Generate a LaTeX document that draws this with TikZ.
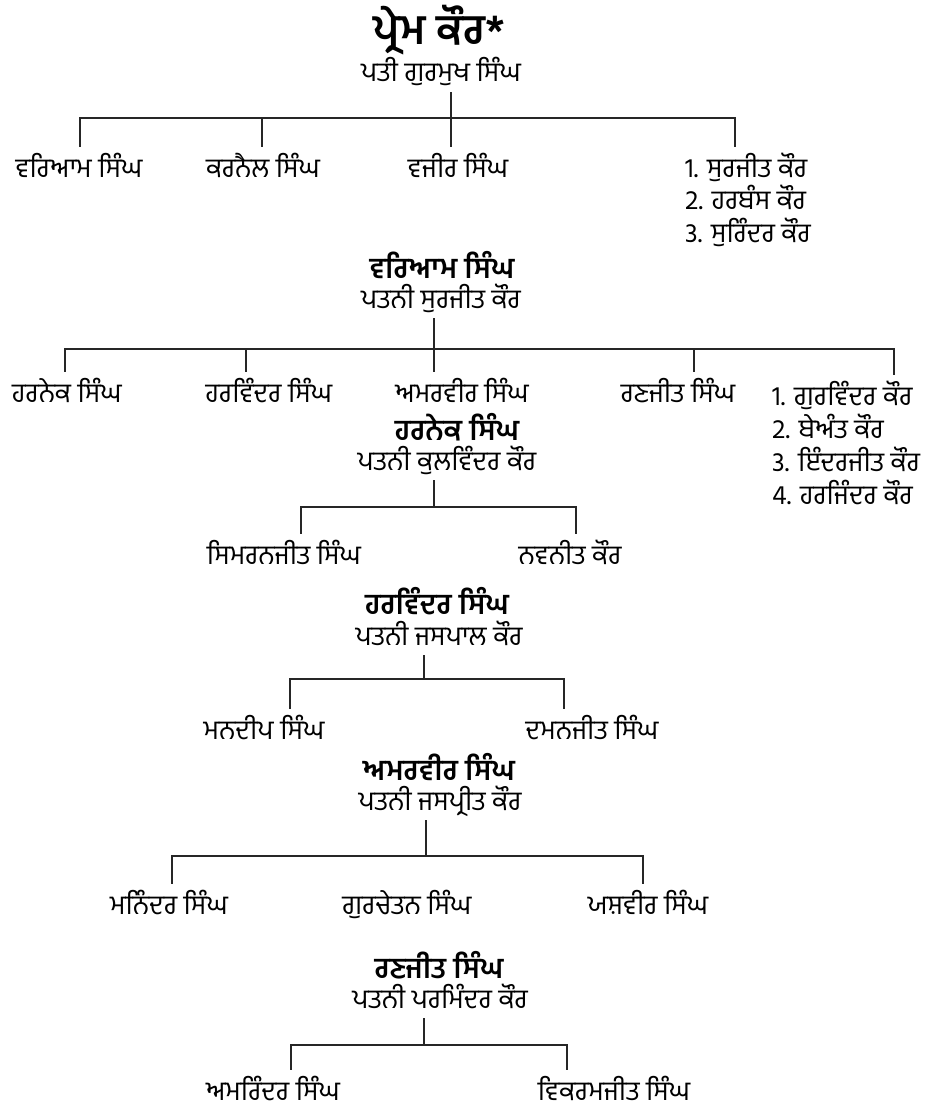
\documentclass[tikz,border=0pt]{standalone}
\usepackage{fontspec}
\newfontfamily\gur[Script=Gurmukhi]{Hind Jalandhar}
\usetikzlibrary{positioning}

\begin{document}
\begin{tikzpicture}[x=1pt,y=-1pt,
      person/.style={font=\gur\fontsize{27}{31}\selectfont,anchor=base,inner sep=0pt,text height=30pt,text depth=0pt},
      spouse/.style={person,text depth=10pt},
      listitem/.style={person,anchor=base west},
      parent/.style={font=\gur\bfseries\fontsize{29}{33}\selectfont,anchor=base,inner sep=0pt},
      rootname/.style={font=\gur\bfseries\fontsize{42}{46}\selectfont,anchor=base,inner sep=0pt},
      link/.style={line width=1.6pt,black!85}]
    \useasboundingbox[fill=white] (0,0) rectangle (948,1113);
    % pRem kaur
    \node[rootname] (h0) at (439,45) {ਪ੍ਰੇਮ ਕੌਰ*};
    \node[spouse] (s0) at (441,82) {ਪਤੀ ਗੁਰਮੁਖ ਸਿੰਘ};
    \coordinate (j0) at (451,118);
    \coordinate (d01) at (80,118); \coordinate (d02) at (262,118); \coordinate (d04) at (735,118);
    \node[person] (c01) at (79,177) {ਵਰਿਆਮ ਸਿੰਘ};
    \node[person] (c02) at (263,177) {ਕਰਨੈਲ ਸਿੰਘ};
    \node[person] (c03) at (458,177) {ਵਜੀਰ ਸਿੰਘ};
    \node[listitem] (c04a) at (685,177) {1. ਸੁਰਜੀਤ ਕੌਰ};
    \node[listitem] (c04b) at (685,209) {2. ਹਰਬੰਸ ਕੌਰ};
    \node[listitem] (c04c) at (685,242) {3. ਸੁਰਿੰਦਰ ਕੌਰ};
    \draw[link] (s0.south -| j0) -- (j0 |- c03.north);
    \draw[link] (d01 |- c01.north) -- (d01) -- (d04) -- (d04 |- c04a.north);
    \draw[link] (d02) -- (d02 |- c02.north);
    % wariam singh
    \node[parent] (h1) at (442,278) {ਵਰਿਆਮ ਸਿੰਘ};
    \node[spouse] (s1) at (441,308) {ਪਤਨੀ ਸੁਰਜੀਤ ਕੌਰ};
    \coordinate (j1) at (434,349);
    \coordinate (d11) at (65,349); \coordinate (d12) at (246,349);
    \coordinate (d14) at (694,349); \coordinate (d15) at (894,349);
    \node[person] (c11) at (67,402) {ਹਰਨੇਕ ਸਿੰਘ};
    \node[person] (c12) at (269,402) {ਹਰਵਿੰਦਰ ਸਿੰਘ};
    \node[person] (c13) at (462,402) {ਅਮਰਵੀਰ ਸਿੰਘ};
    \node[person] (c14) at (678,402) {ਰਣਜੀਤ ਸਿੰਘ};
    \node[listitem] (c15a) at (772,405) {1. ਗੁਰਵਿੰਦਰ ਕੌਰ};
    \node[listitem] (c15b) at (772,438) {2. ਬੇਅੰਤ ਕੌਰ};
    \node[listitem] (c15c) at (772,471) {3. ਇੰਦਰਜੀਤ ਕੌਰ};
    \node[listitem] (c15d) at (772,504) {4. ਹਰਜਿੰਦਰ ਕੌਰ};
    \draw[link] (s1.south -| j1) -- (j1 |- c13.north);
    \draw[link] (d11 |- c11.north) -- (d11) -- (d15) -- (d15 |- c15a.north);
    \draw[link] (d12) -- (d12 |- c12.north);
    \draw[link] (d14) -- (d14 |- c14.north);
    % harnek singh
    \node[parent] (h2) at (457,440) {ਹਰਨੇਕ ਸਿੰਘ};
    \node[spouse] (s2) at (447,470) {ਪਤਨੀ ਕੁਲਵਿੰਦਰ ਕੌਰ};
    \coordinate (j2) at (434,507);
    \coordinate (d21) at (301,507); \coordinate (d22) at (576,507);
    \node[person] (c21) at (284,564) {ਸਿਮਰਨਜੀਤ ਸਿੰਘ};
    \node[person] (c22) at (570,564) {ਨਵਨੀਤ ਕੌਰ};
    \draw[link] (s2.south -| j2) -- (j2);
    \draw[link] (d21 |- c21.north) -- (d21) -- (d22) -- (d22 |- c22.north);
    % harwinder singh
    \node[parent] (h3) at (437,614) {ਹਰਵਿੰਦਰ ਸਿੰਘ};
    \node[spouse] (s3) at (439,645) {ਪਤਨੀ ਜਸਪਾਲ ਕੌਰ};
    \coordinate (j3) at (424,679);
    \coordinate (d31) at (290,679); \coordinate (d32) at (564,679);
    \node[person] (c31) at (264,739) {ਮਨਦੀਪ ਸਿੰਘ};
    \node[person] (c32) at (592,739) {ਦਮਨਜੀਤ ਸਿੰਘ};
    \draw[link] (s3.south -| j3) -- (j3);
    \draw[link] (d31 |- c31.north) -- (d31) -- (d32) -- (d32 |- c32.north);
    % amarvir singh
    \node[parent] (h4) at (439,780) {ਅਮਰਵੀਰ ਸਿੰਘ};
    \node[spouse] (s4) at (440,810) {ਪਤਨੀ ਜਸਪ੍ਰੀਤ ਕੌਰ};
    \coordinate (j4) at (426,856);
    \coordinate (d41) at (172,856); \coordinate (d43) at (643,856);
    \node[person] (c41) at (169,914) {ਮਨਿੰਦਰ ਸਿੰਘ};
    \node[person] (c42) at (407,914) {ਗੁਰਚੇਤਨ ਸਿੰਘ};
    \node[person] (c43) at (648,914) {ਯਸ਼ਵੀਰ ਸਿੰਘ};
    \draw[link] (s4.south -| j4) -- (j4);
    \draw[link] (d41 |- c41.north) -- (d41) -- (d43) -- (d43 |- c43.north);
    % ranjit singh
    \node[parent] (h5) at (439,978) {ਰਣਜੀਤ ਸਿੰਘ};
    \node[spouse] (s5) at (440,1008) {ਪਤਨੀ ਪਰਮਿੰਦਰ ਕੌਰ};
    \coordinate (j5) at (424,1045);
    \coordinate (d51) at (291,1045); \coordinate (d52) at (567,1045);
    \node[person] (c51) at (273,1100) {ਅਮਰਿੰਦਰ ਸਿੰਘ};
    \node[person] (c52) at (614,1100) {ਵਿਕਰਮਜੀਤ ਸਿੰਘ};
    \draw[link] (s5.south -| j5) -- (j5);
    \draw[link] (d51 |- c51.north) -- (d51) -- (d52) -- (d52 |- c52.north);
  \end{tikzpicture}
\end{document}
